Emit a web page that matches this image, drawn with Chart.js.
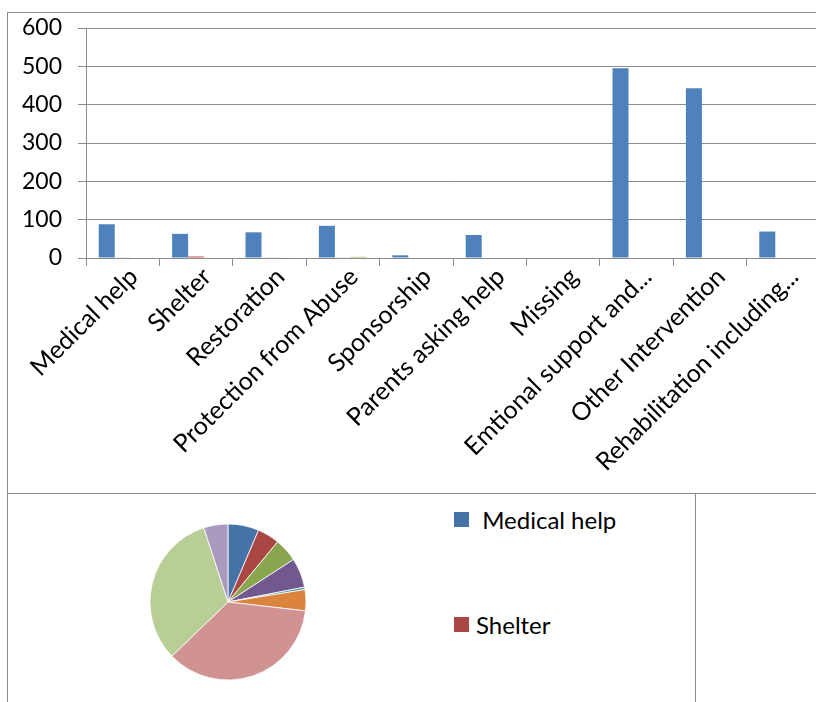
<!DOCTYPE html>
<html>
<head>
<meta charset="utf-8">
<script src="https://cdn.jsdelivr.net/npm/chart.js@4.4.1/dist/chart.umd.min.js"></script>
<style>
  html, body { margin: 0; padding: 0; width: 816px; height: 702px; overflow: hidden; background: #fff; }
  .wrap { position: relative; width: 816px; height: 702px; overflow: hidden; font-family: Lato, sans-serif; }
  .line { position: absolute; background: #8c8c8c; z-index: 2; }
  #barChart { position: absolute; left: 0; top: 0; }
  #pieChart { position: absolute; left: 128px; top: 502px; }
  .legend-item { position: absolute; left: 454px; display: flex; align-items: center; font-size: 24px; color: #000; white-space: pre; }
  .legend-item span.box { width: 15px; height: 15px; margin-right: 7px; }
</style>
</head>
<body>
<div class="wrap">
  <div class="line" style="left:7px;top:12px;width:809px;height:1px"></div>
  <div class="line" style="left:7px;top:12px;width:1px;height:690px"></div>
  <div class="line" style="left:7px;top:493px;width:809px;height:1px"></div>
  <div class="line" style="left:695px;top:493px;width:1px;height:209px"></div>
  <canvas id="barChart" width="830" height="492"></canvas>
  <canvas id="pieChart" width="200" height="200"></canvas>
  <div id="pieLegend"></div>
</div>
<script>
const categories = [" Medical help", "Shelter", "Restoration", "Protection from Abuse", "Sponsorship",
  "Parents asking help", "Missing", "Emtional support and...", "Other Intervention", "Rehabilitation including..."];
const series1 = [88, 63, 67, 84, 7, 60, 0, 495, 443, 69];
const series2 = [1, 4, 1, 1, 0, 0, 0, 0, 0, 0];
const series3 = [0, 0, 1, 3, 0, 0, 0, 0, 0, 0];
const yTicks = [0, 100, 200, 300, 400, 500, 600];

const barColors = ["#4F81BD", "#C0504D", "#9BBB59"];
const pieColors = ["#4572A7", "#AA4643", "#89A54E", "#71588F", "#4198AF", "#DB843D",
  "#93A9CF", "#D19392", "#B9CD96", "#A99BBD"];
const legendShown = 2;

Chart.defaults.font.family = "Lato, sans-serif";
Chart.defaults.color = "#000";

const gridColor = "#8c8c8c";

new Chart(document.getElementById("barChart"), {
  type: "bar",
  data: {
    labels: categories,
    datasets: [
      {label: "Series1", data: series1, backgroundColor: barColors[0]},
      {label: "Series2", data: series2, backgroundColor: barColors[1]},
      {label: "Series3", data: series3, backgroundColor: barColors[2]}
    ]
  },
  options: {
    responsive: false,
    animation: false,
    events: [],
    layout: {padding: {top: 28, right: 10, left: 0, bottom: 0}},
    datasets: {bar: {barPercentage: 1, categoryPercentage: 0.654}},
    plugins: {legend: {display: false}, tooltip: {enabled: false}},
    scales: {
      x: {
        offset: true,
        grid: {offset: true, drawOnChartArea: false, drawTicks: true, tickLength: 8, color: gridColor},
        border: {color: gridColor},
        ticks: {autoSkip: false, minRotation: 45, maxRotation: 45, padding: -4, labelOffset: 11, font: {size: 25}},
        afterFit: s => { s.height = 492 - 258; s.paddingLeft = 0; s.paddingRight = 0; }
      },
      y: {
        min: yTicks[0], max: yTicks[yTicks.length - 1],
        afterBuildTicks: s => { s.ticks = yTicks.map(v => ({value: v})); },
        grid: {color: gridColor, tickLength: 8},
        border: {color: gridColor},
        ticks: {padding: 16, font: {size: 23}},
        afterFit: s => { s.width = 86; s.paddingTop = 0; s.paddingBottom = 0; }
      }
    }
  }
});

new Chart(document.getElementById("pieChart"), {
  type: "pie",
  data: {
    labels: categories,
    datasets: [{data: series1, backgroundColor: pieColors, borderColor: "rgba(255,255,255,0.8)", borderWidth: 1, radius: 78}]
  },
  options: {
    responsive: false,
    animation: false,
    events: [],
    layout: {padding: 0},
    plugins: {legend: {display: false}, tooltip: {enabled: false}}
  }
});

// Leyenda recortada como en el original.
const legendBox = document.getElementById("pieLegend");
categories.slice(0, legendShown).forEach((name, i) => {
  const item = document.createElement("div");
  item.className = "legend-item";
  item.style.top = (505 + i * 105) + "px";
  item.innerHTML = `<span class="box" style="background:${pieColors[i]}"></span><span>${name}</span>`;
  legendBox.appendChild(item);
});
</script>
</body>
</html>
